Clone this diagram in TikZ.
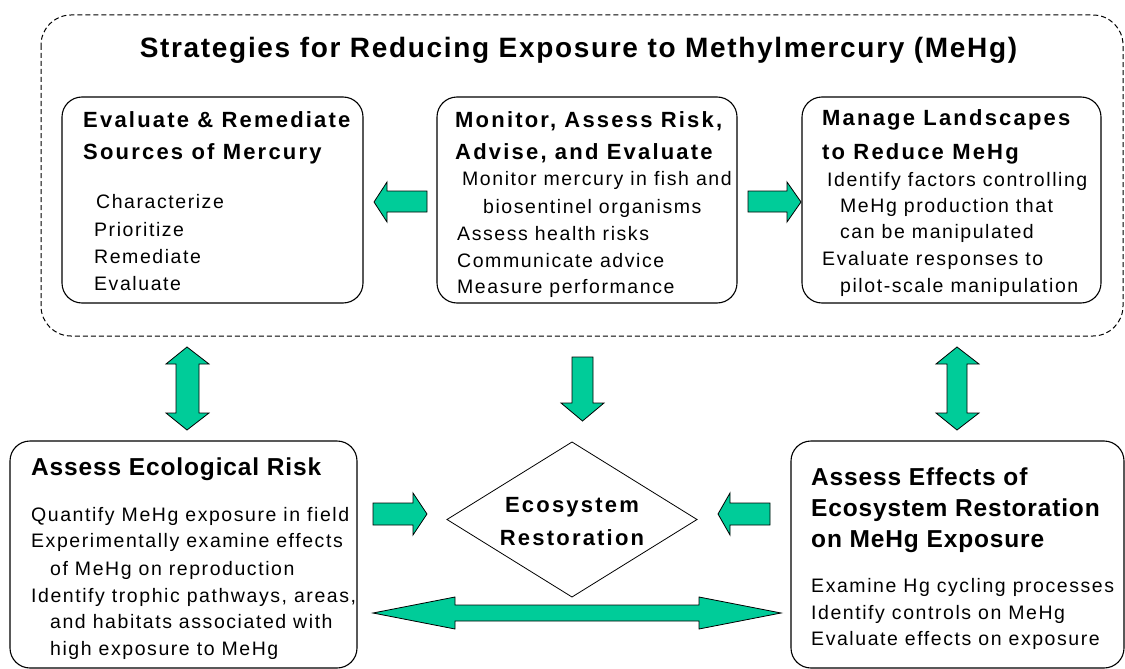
\documentclass[tikz,border=0pt]{standalone}
\usepackage{fontspec}
\setmainfont{Liberation Sans}
\newfontfamily\TitleF[LetterSpace=6]{Liberation Sans}
\newfontfamily\HeadF[LetterSpace=10]{Liberation Sans}
\newfontfamily\HeadBF[LetterSpace=3.5]{Liberation Sans}
\newfontfamily\ItemF[LetterSpace=8]{Liberation Sans}
\definecolor{teal}{HTML}{00CC99}
\begin{document}
\begin{tikzpicture}[x=1pt,y=-1pt,
  box/.style={draw=black, line width=1.1pt, rounded corners=20pt, fill=white, inner sep=0pt},
  arr/.style={fill=teal, draw=black, line width=0.8pt, line join=miter},
  maintitle/.style={font=\TitleF\bfseries\fontsize{28}{32}\selectfont, anchor=base, inner sep=0pt},
  head/.style={font=\HeadF\bfseries\fontsize{22}{26}\selectfont, anchor=base west, inner sep=0pt},
  headb/.style={font=\HeadBF\bfseries\fontsize{24.5}{28}\selectfont, anchor=base west, inner sep=0pt},
  item/.style={font=\ItemF\fontsize{19.5}{23}\selectfont, anchor=base west, inner sep=0pt}]
\useasboundingbox (0,0) rectangle (1125,669);
% outer dashed frame
\draw[line width=1pt, dash pattern=on 5pt off 3pt, rounded corners=30pt] (41,15) rectangle (1123,336);
\node[maintitle] (title) at (578.5,58) {Strategies for Reducing Exposure to Methylmercury (MeHg)};
% boxes
\node[box, minimum width=301pt, minimum height=206pt] (b1) at (212.5,200) {};
\node[box, minimum width=300pt, minimum height=206pt] (b2) at (587,200) {};
\node[box, minimum width=299pt, minimum height=206pt] (b3) at (951.5,200) {};
\node[box, minimum width=347pt, minimum height=227pt] (b4) at (183.5,554.5) {};
\node[box, minimum width=333pt, minimum height=227pt] (b5) at (957.5,554.5) {};
% box 1
\node[head] (b1h1) at (83,128) {Evaluate \& Remediate};
\node[head] (b1h2) at (83,159) {Sources of Mercury};
\node[item] (b1i1) at (96,208) {Characterize};
\node[item] (b1i2) at (94,236) {Prioritize};
\node[item] (b1i3) at (94,263) {Remediate};
\node[item] (b1i4) at (94,290) {Evaluate};
% box 2
\node[head] (b2h1) at (455,128) {Monitor, Assess Risk,};
\node[head] (b2h2) at (455,159) {Advise, and Evaluate};
\node[item] (b2i1) at (462,185) {Monitor mercury in fish and};
\node[item] (b2i2) at (483,213) {biosentinel organisms};
\node[item] (b2i3) at (457,240) {Assess health risks};
\node[item] (b2i4) at (457,267) {Communicate advice};
\node[item] (b2i5) at (457,293) {Measure performance};
% box 3
\node[head] (b3h1) at (822,125) {Manage Landscapes};
\node[head] (b3h2) at (822,159) {to Reduce MeHg};
\node[item] (b3i1) at (827,186) {Identify factors controlling};
\node[item] (b3i2) at (840,212) {MeHg production that};
\node[item] (b3i3) at (840,238) {can be manipulated};
\node[item] (b3i4) at (822,265) {Evaluate responses to};
\node[item] (b3i5) at (840,292) {pilot-scale manipulation};
% box 4
\node[headb] (b4h1) at (31,475) {Assess Ecological Risk};
\node[item] (b4i1) at (31,521) {Quantify MeHg exposure in field};
\node[item] (b4i2) at (31,547) {Experimentally examine effects};
\node[item] (b4i3) at (50,575) {of MeHg on reproduction};
\node[item] (b4i4) at (31,602) {Identify trophic pathways, areas,};
\node[item] (b4i5) at (50,628) {and habitats associated with};
\node[item] (b4i6) at (50,655) {high exposure to MeHg};
% box 5
\node[headb] (b5h1) at (811,485) {Assess Effects of};
\node[headb] (b5h2) at (811,516) {Ecosystem Restoration};
\node[headb] (b5h3) at (811,547) {on MeHg Exposure};
\node[item] (b5i1) at (811,592) {Examine Hg cycling processes};
\node[item] (b5i2) at (811,619) {Identify controls on MeHg};
\node[item] (b5i3) at (811,645) {Evaluate effects on exposure};
% diamond
\draw[line width=0.8pt, fill=white] (447,519.5) -- (572,442) -- (697,519.5) -- (572,597) -- cycle;
\node[head, anchor=base] (eco1) at (572,512) {Ecosystem};
\node[head, anchor=base] (eco2) at (572,545) {Restoration};
% block arrows
\draw[arr] (374,202) -- (387,182) -- (387,191) -- (427,191) -- (427,212) -- (387,212) -- (387,222) -- cycle;
\draw[arr] (748,191) -- (787,191) -- (787,182) -- (801,202) -- (787,222) -- (787,212) -- (748,212) -- cycle;
\draw[arr] (187,347) -- (209,364) -- (199,364) -- (199,413) -- (209,413) -- (187,430) -- (166,413) -- (176,413) -- (176,364) -- (166,364) -- cycle;
\draw[arr] (957,347) -- (979,364) -- (967,364) -- (967,413) -- (979,413) -- (957,430) -- (936,413) -- (947,413) -- (947,364) -- (936,364) -- cycle;
\draw[arr] (572,357) -- (593,357) -- (593,403) -- (604,403) -- (582.5,421) -- (561,403) -- (572,403) -- cycle;
\draw[arr] (373,503) -- (413,503) -- (413,493) -- (427,514) -- (413,535) -- (413,525) -- (373,525) -- cycle;
\draw[arr] (770,503) -- (730,503) -- (730,493) -- (718,514) -- (730,535) -- (730,525) -- (770,525) -- cycle;
\draw[arr] (373,613) -- (455,597) -- (455,605) -- (699,605) -- (699,597) -- (781,613) -- (699,629) -- (699,621) -- (455,621) -- (455,629) -- cycle;
\end{tikzpicture}
\end{document}
